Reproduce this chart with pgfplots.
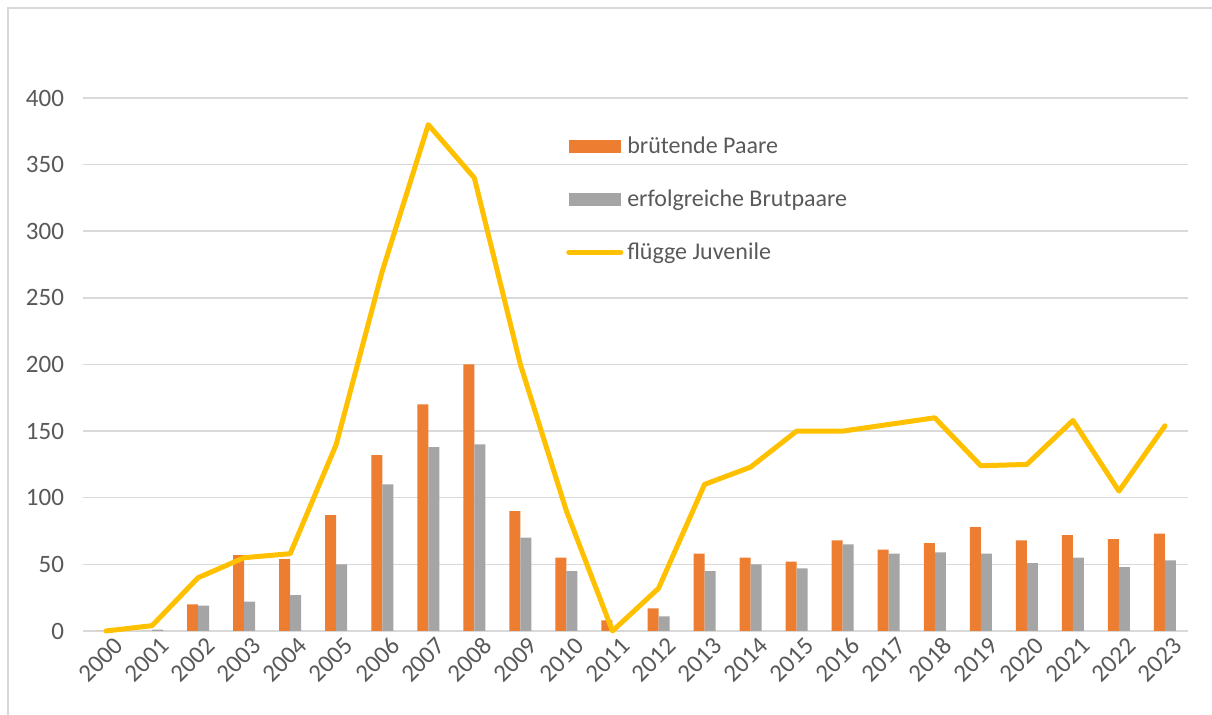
\documentclass[border=0pt]{standalone}
\usepackage{fontspec}
\setmainfont{Carlito}
\usepackage{pgfplots}
\pgfplotsset{compat=1.18}
\usepackage{pgfplotstable}
\definecolor{cOrange}{HTML}{ED7D31}
\definecolor{cGray}{HTML}{A5A5A5}
\definecolor{cYellow}{HTML}{FFC000}
\definecolor{cGrid}{HTML}{D9D9D9}
\definecolor{cText}{HTML}{595959}
\pgfplotstableread{
x year brut erfolg juv
0 2000 0 0 0
1 2001 0 1 4
2 2002 20 19 40
3 2003 57 22 55
4 2004 54 27 58
5 2005 87 50 140
6 2006 132 110 270
7 2007 170 138 380
8 2008 200 140 340
9 2009 90 70 200
10 2010 55 45 90
11 2011 8 0 0
12 2012 17 11 32
13 2013 58 45 110
14 2014 55 50 123
15 2015 52 47 150
16 2016 68 65 150
17 2017 61 58 155
18 2018 66 59 160
19 2019 78 58 124
20 2020 68 51 125
21 2021 72 55 158
22 2022 69 48 105
23 2023 73 53 154
}\data
\begin{document}
\begin{tikzpicture}
\path[use as bounding box] (0,0) rectangle (606pt,357.5pt);
\draw[cGrid, line width=0.75pt] (4pt,0) -- (4pt,353.5pt) -- (606pt,353.5pt);
\begin{axis}[
  at={(41.5pt,42pt)}, anchor=south west,
  scale only axis, width=552.5pt, height=266.5pt,
  xmin=-0.5, xmax=23.5, ymin=0, ymax=400,
  xtick={0,...,23},
  xticklabels={2000,2001,2002,2003,2004,2005,2006,2007,2008,2009,2010,2011,2012,2013,2014,2015,2016,2017,2018,2019,2020,2021,2022,2023},
  ytick={0,50,...,400},
  axis line style={draw=none},
  tick style={draw=none},
  ymajorgrids,
  major grid style={color=cGrid, line width=0.75pt},
  /pgf/number format/assume math mode=true,
  ticklabel style={font=\fontsize{12.5}{15}\selectfont, text=cText},
  yticklabel style={anchor=east, xshift=-6pt},
  xticklabel style={rotate=45, anchor=north east, inner sep=0pt, xshift=1pt, yshift=-4pt},
  clip=false,
  legend style={at={(0.437,0.935)}, anchor=north west, draw=none, fill=none,
    font=\fontsize{12}{14.4}\selectfont, text=cText, row sep=12.5pt,
    legend cell align=left, inner sep=0pt},
]
\addplot[ybar, bar width=5.5pt, bar shift=-2.75pt, fill=cOrange, draw=none,
  legend image code/.code={\fill[cOrange] (0pt,-3.25pt) rectangle (26pt,3.25pt);}]
  table[x=x, y=brut] {\data};
\addlegendentry{brütende Paare}
\addplot[ybar, bar width=5.5pt, bar shift=2.75pt, fill=cGray, draw=none,
  legend image code/.code={\fill[cGray] (0pt,-3.25pt) rectangle (26pt,3.25pt);}]
  table[x=x, y=erfolg] {\data};
\addlegendentry{erfolgreiche Brutpaare}
\addplot[cYellow, line width=2.5pt, line join=round, line cap=round,
  legend image code/.code={\draw[cYellow, line width=2.5pt, line cap=round] (0pt,0pt) -- (26pt,0pt);}]
  table[x=x, y=juv] {\data};
\addlegendentry{flügge Juvenile}
\end{axis}
\end{tikzpicture}
\end{document}
